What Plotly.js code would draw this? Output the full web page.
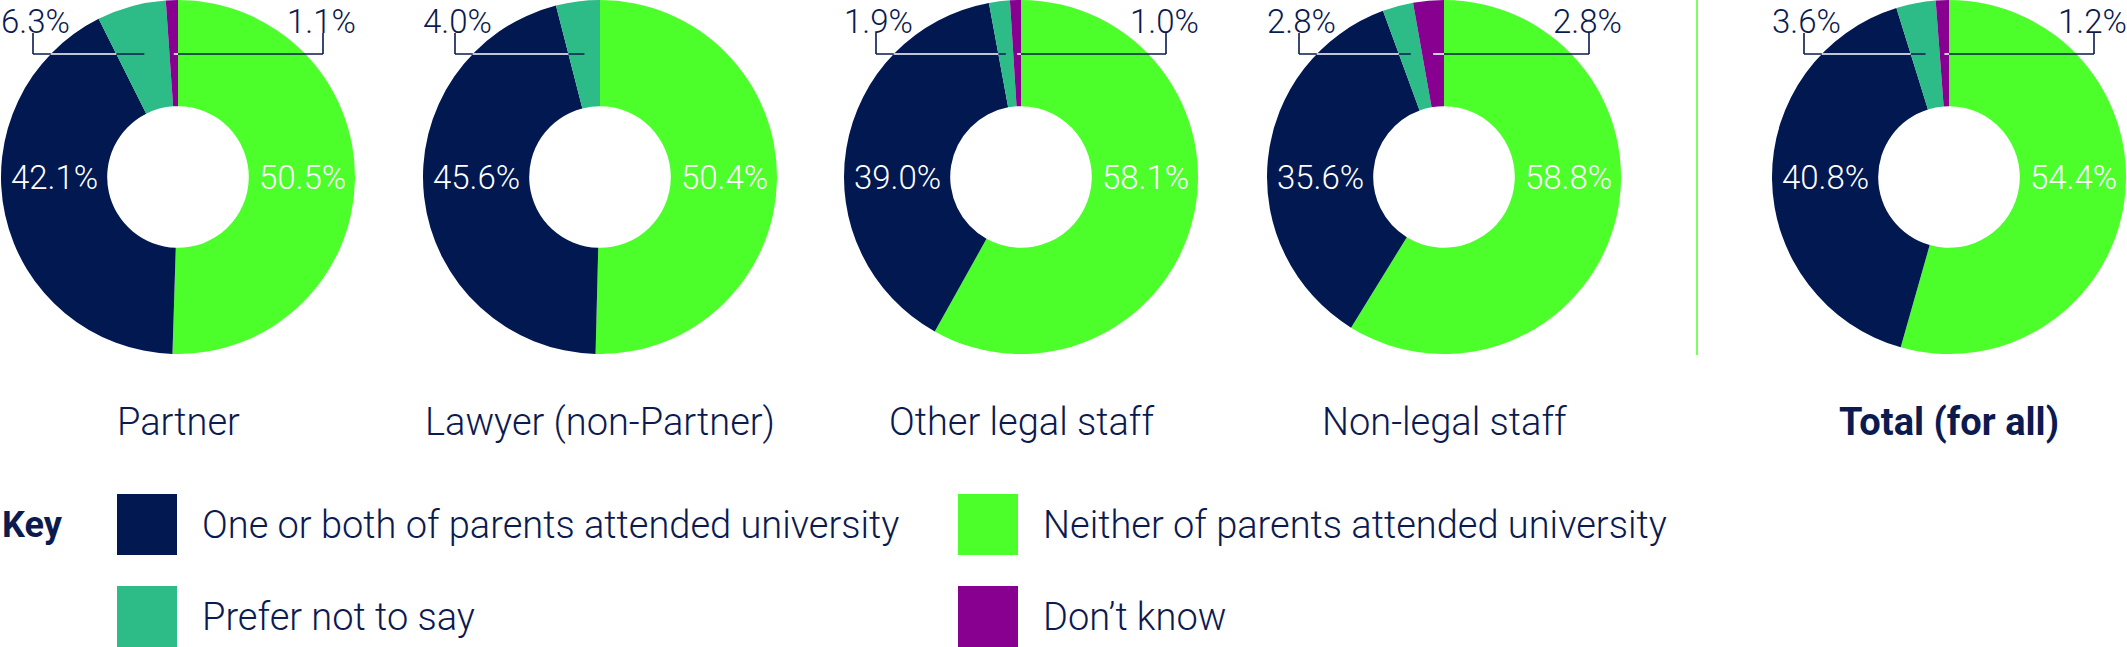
<!DOCTYPE html>
<html>
<head>
<meta charset="utf-8">
<script src="https://cdn.plot.ly/plotly-3.0.1.min.js"></script>
<style>
  html, body { margin: 0; padding: 0; background: #fff; }
  #chart { width: 2127px; height: 647px; }
</style>
</head>
<body>
<div id="chart"></div>
<script>
/* ---------------------------- data ---------------------------- */

const categories = ["Partner", "Lawyer (non-Partner)", "Other legal staff", "Non-legal staff", "Total (for all)"];
const seriesNames = [
  "Neither of parents attended university",
  "One or both of parents attended university",
  "Prefer not to say",
  "Don\u2019t know",
];
const neither = [50.5, 50.4, 58.1, 58.8, 54.4];
const oneOrBoth = [42.1, 45.6, 39.0, 35.6, 40.8];
const preferNot = [6.3, 4.0, 1.9, 2.8, 3.6];
const dontKnow = [1.1, 0, 1.0, 2.8, 1.2];

/* --------------------------- styling --------------------------- */

const W = 2127;
const H = 647;
const NAVY = "#021850";
const GREEN = "#4cff2a";
const TEAL = "#2dbb87";
const PURPLE = "#870090";
const TEXT = "#0b1a4f";
const SLICE_COLORS = [GREEN, NAVY, TEAL, PURPLE];
const FONT = "Roboto, 'Open Sans', sans-serif";

const centersX = [178, 600, 1021, 1444, 1949];
const centerY = 177;
const R = 177;
const ringMid = 124;     // inside labels sit on the ring's middle, left and right
const lineDy = 123;      // leader line height above centre
const tickOff = 145;     // leader tick offset from centre

const px = (x) => x / W;
const py = (y) => 1 - y / H;

/* ---------------------------- traces ---------------------------- */

const traces = categories.map((cat, i) => ({
  type: "pie",
  name: cat,
  labels: seriesNames,
  values: [neither[i], oneOrBoth[i], preferNot[i], dontKnow[i]],
  sort: false,
  direction: "clockwise",
  rotation: 0,
  hole: 0.4,
  marker: { colors: SLICE_COLORS, line: { width: 0 } },
  textinfo: "none",
  hoverinfo: "label+percent",
  showlegend: false,
  domain: {
    x: [px(centersX[i] - R), px(centersX[i] + R)],
    y: [py(centerY + R), py(centerY - R)],
  },
}));

/* ---------------------- labels + leader lines ---------------------- */

const shapes = [];
const annotations = [];
const yLine = centerY - lineDy;
const yTickTop = 33;

function xAtAngle(cx, pct) {
  const th = (pct / 100) * 2 * Math.PI;
  return cx + lineDy * Math.tan(th);
}

function seg(x0, y0, x1, y1, color) {
  shapes.push({
    type: "line", xref: "paper", yref: "paper", layer: "above",
    x0: px(x0), y0: py(y0), x1: px(x1), y1: py(y1),
    line: { color: color, width: 1.6 },
  });
}

function label(x, y, text, anchorY, size, color, weight) {
  annotations.push({
    xref: "paper", yref: "paper", x: x, y: y,
    xanchor: "center", yanchor: anchorY, showarrow: false,
    text: text,
    font: { family: FONT, size: size, color: color, weight: weight },
  });
}

categories.forEach((cat, i) => {
  const cx = centersX[i];
  const navyEnd = neither[i] + oneOrBoth[i];
  const outerX = cx - Math.sqrt(R * R - lineDy * lineDy);

  // big slices, labelled inside the ring
  label(px(cx - ringMid), py(centerY), oneOrBoth[i].toFixed(1) + "%", "middle", 33, "#ffffff", 300);
  label(px(cx + ringMid), py(centerY), neither[i].toFixed(1) + "%", "middle", 33, "#ffffff", 300);

  // left: prefer not to say
  if (preferNot[i] > 0) {
    const tealMid = xAtAngle(cx, navyEnd + preferNot[i] / 2);
    seg(cx - tickOff, yTickTop, cx - tickOff, yLine, TEXT);
    seg(cx - tickOff, yLine, tealMid, yLine, TEXT);
    seg(outerX, yLine, xAtAngle(cx, navyEnd), yLine, "#ffffff");
    label(px(cx - tickOff + 2), 1, preferNot[i].toFixed(1) + "%", "top", 33, TEXT, 300);
  }

  // right: don't know
  if (dontKnow[i] > 0) {
    const purpleMid = xAtAngle(cx, 100 - dontKnow[i] / 2);
    seg(cx + tickOff, yTickTop, cx + tickOff, yLine, TEXT);
    seg(purpleMid, yLine, cx + tickOff, yLine, TEXT);
    seg(purpleMid, yLine, cx, yLine, "#ffffff");
    label(px(cx + tickOff - 2), 1, dontKnow[i].toFixed(1) + "%", "top", 33, TEXT, 300);
  }

  // category name under each ring
  const isTotal = i === categories.length - 1;
  label(px(cx), py(422), isTotal ? "<b>" + cat + "</b>" : cat, "middle", 38, TEXT, isTotal ? 700 : 300);
});

// divider before the total
shapes.push({
  type: "line", xref: "paper", yref: "paper", layer: "above",
  x0: px(1697), x1: px(1697), y0: py(0), y1: py(355),
  line: { color: GREEN, width: 1.5 },
});

/* ------------------------------ key ------------------------------ */

annotations.push({
  xref: "paper", yref: "paper", x: 0, y: py(525),
  xanchor: "left", yanchor: "middle", showarrow: false,
  text: "<b>Key</b>",
  font: { family: FONT, size: 36, color: TEXT, weight: 700 },
});

const keyOrder = [1, 0, 2, 3];   // navy, green / teal, purple
const keyCols = [117, 958];
const keyRows = [494, 586];
keyOrder.forEach((k, n) => {
  const col = keyCols[n % 2];
  const row = keyRows[Math.floor(n / 2)];
  shapes.push({
    type: "rect", xref: "paper", yref: "paper", layer: "above",
    x0: px(col), x1: px(col + 60), y0: py(row), y1: py(row + 61),
    fillcolor: SLICE_COLORS[k], line: { width: 0 },
  });
  annotations.push({
    xref: "paper", yref: "paper", x: px(col + 83), y: py(row + 31),
    xanchor: "left", yanchor: "middle", showarrow: false,
    text: seriesNames[k],
    font: { family: FONT, size: 38, color: TEXT, weight: 300 },
  });
});

const layout = {
  width: W,
  height: H,
  margin: { l: 0, r: 0, t: 0, b: 0 },
  paper_bgcolor: "#ffffff",
  plot_bgcolor: "#ffffff",
  font: { family: FONT, color: TEXT },
  shapes: shapes,
  annotations: annotations,
  showlegend: false,
};

Plotly.newPlot("chart", traces, layout, { displayModeBar: false, staticPlot: true });
</script>
</body>
</html>
